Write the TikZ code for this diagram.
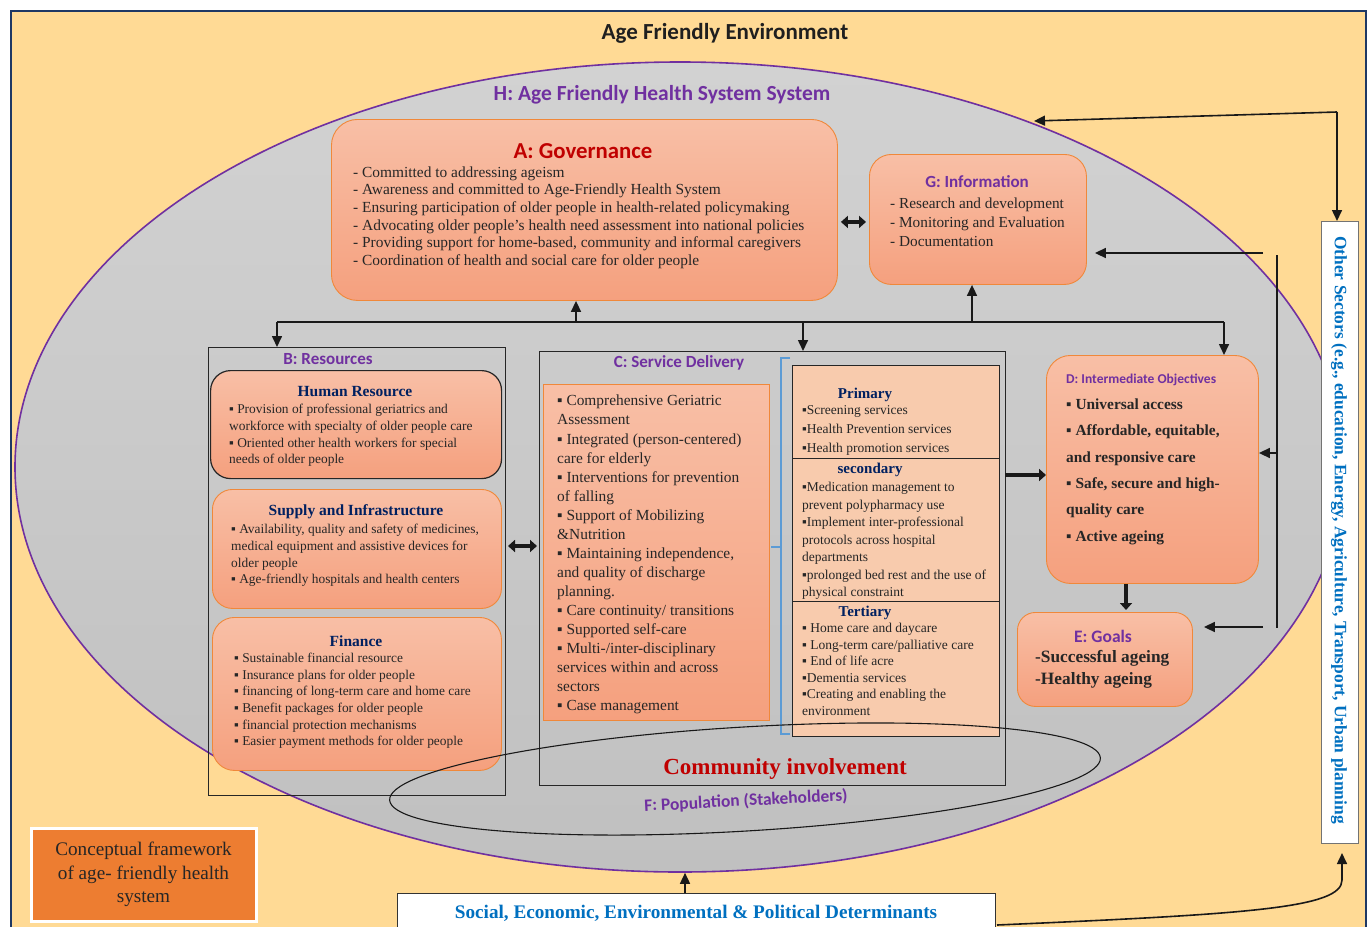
\documentclass[tikz,border=0pt]{standalone}
\usepackage{fontspec}
\setmainfont{Liberation Serif}
\newfontfamily\carl{Carlito}
\usetikzlibrary{arrows.meta,calc,shapes.geometric}
\definecolor{bgY}{HTML}{FFDA95}
\definecolor{navyF}{HTML}{1F3864}
\definecolor{purp}{HTML}{7030A0}
\definecolor{grayT}{HTML}{D2D2D2}
\definecolor{grayB}{HTML}{C0C0C0}
\definecolor{pkT}{HTML}{F8BFA6}
\definecolor{pkB}{HTML}{F5A07E}
\definecolor{orB}{HTML}{F0883A}
\definecolor{redT}{HTML}{C00000}
\definecolor{dnavy}{HTML}{002060}
\definecolor{txt}{HTML}{262626}
\definecolor{peach}{HTML}{F8CBAD}
\definecolor{blueB}{HTML}{5B9BD5}
\definecolor{blueT}{HTML}{0070C0}
\definecolor{cforange}{HTML}{ED7D31}
\tikzset{
  pbox/.style={draw=orB, line width=0.9pt, top color=pkT, bottom color=pkB, anchor=north west, inner sep=0pt},
  plainbox/.style={draw=black!85, line width=0.9pt, anchor=north west, inner sep=0pt},
  stitle/.style={font=\carl\bfseries\fontsize{#1}{#1}\selectfont, text=purp, inner sep=0pt},
  rtitle/.style={font=\bfseries\fontsize{#1}{#1}\selectfont, text=dnavy, inner sep=0pt},
  items/.style 2 args={font=\fontsize{#1}{#2}\selectfont, text=txt, align=left, anchor=north west, inner sep=0pt},
  bitems/.style 2 args={font=\bfseries\fontsize{#1}{#2}\selectfont, text=txt, align=left, anchor=north west, inner sep=0pt},
  ln/.style={draw=black!90, line width=1.6pt},
  arr/.style={ln, -{Triangle[length=11pt,width=10pt]}},
  tarr/.style={draw=black!90, line width=3.6pt, -{Triangle[length=7pt,width=12pt]}},
  dbarr/.style={draw=black!90, line width=3.6pt, {Triangle[length=7pt,width=12pt]}-{Triangle[length=7pt,width=12pt]}},
}
\begin{document}
\begin{tikzpicture}[x=1pt,y=-1pt]
\useasboundingbox (0,0) rectangle (1372,926);
\clip (0,0) rectangle (1372,926);
\fill[white] (0,0) rectangle (1372,926);
% frame
\draw[navyF, line width=2.5pt, fill=bgY] (11,11) rectangle (1366,960);
\node[font=\carl\bfseries\fontsize{23}{26}\selectfont, text=black!88, inner sep=0pt] (title) at (725,33) {Age Friendly Environment};
% health system ellipse
\node[ellipse, draw=purp, line width=1.6pt, top color=grayT, bottom color=grayB, minimum width=1330pt, minimum height=810pt, inner sep=0pt] (hs) at (680,467) {};
\node[stitle=21.5] (htitle) at (662,95) {H: Age Friendly Health System System};
% A governance
\node[pbox, rounded corners=26pt, minimum width=506pt, minimum height=181pt] (gov) at (331,119) {};
\node[font=\carl\bfseries\fontsize{22.8}{22.8}\selectfont, text=redT, inner sep=0pt] (govt) at (583,151) {A: Governance};
\node[items={15.4}{17.6}] (govi) at (353,166.5) {- Committed to addressing ageism\\
- Awareness and committed to Age-Friendly Health System\\
- Ensuring participation of older people in health-related policymaking\\
- Advocating older people’s health need assessment into national policies\\
- Providing support for home-based, community and informal caregivers\\
- Coordination of health and social care for older people};
% G information
\node[pbox, rounded corners=22pt, minimum width=217pt, minimum height=130pt] (info) at (869,154) {};
\node[stitle=17] (infot) at (977,182) {G: Information};
\node[items={15.3}{19}] (infoi) at (890,197.5) {- Research and development\\- Monitoring and Evaluation\\- Documentation};
% B resources
\node[plainbox, minimum width=297pt, minimum height=448pt] (res) at (208,347) {};
\node[stitle=17] (rest) at (328,359.5) {B: Resources};
\node[pbox, draw=black!85, line width=1.2pt, rounded corners=20pt, minimum width=291pt, minimum height=108pt] (hr) at (210,370) {};
\node[rtitle=15.5] (hrt) at (355,392) {Human Resource};
\node[items={13.4}{16.7}] (hri) at (229,404) {▪ Provision of professional geriatrics and\\workforce with specialty of older people care\\▪ Oriented other health workers for special\\needs of older people};
\node[pbox, rounded corners=20pt, minimum width=289pt, minimum height=119pt] (sup) at (212,489) {};
\node[rtitle=15.5] (supt) at (356,512) {Supply and Infrastructure};
\node[items={13.4}{16.7}] (supi) at (231,524) {▪ Availability, quality and safety of medicines,\\medical equipment and assistive devices for\\older people\\▪ Age-friendly hospitals and health centers};
\node[pbox, rounded corners=22pt, minimum width=289pt, minimum height=153pt] (fin) at (212,617) {};
\node[rtitle=15.5] (fint) at (356,641) {Finance};
\node[items={13.4}{16.6}] (fini) at (234,653) {▪ Sustainable financial resource\\▪ Insurance plans for older people\\▪ financing of long-term care and home care\\▪ Benefit packages for older people\\▪ financial protection mechanisms\\▪ Easier payment methods for older people};
% C service delivery
\node[plainbox, minimum width=466pt, minimum height=434pt] (sd) at (539,351) {};
\node[stitle=17] (sdt) at (679,362.5) {C: Service Delivery};
\node[pbox, minimum width=226pt, minimum height=336pt] (sdb) at (543,384) {};
\node[items={15.4}{19.06}] (sdi) at (557,395) {▪ Comprehensive Geriatric\\Assessment\\▪ Integrated (person-centered)\\care for elderly\\▪ Interventions for prevention\\of falling\\▪ Support of Mobilizing\\\&Nutrition\\▪ Maintaining independence,\\and quality of discharge\\planning.\\▪ Care continuity/ transitions\\▪ Supported self-care\\▪ Multi-/inter-disciplinary\\services within and across\\sectors\\▪ Case management};
% bracket
\draw[blueB, line width=2.4pt] (790,358) -- (781,358) -- (781,734) -- (790,734);
\draw[blueB, line width=2.4pt] (781,547) -- (771,547);
% tiers
\node[plainbox, fill=peach, minimum width=207pt, minimum height=371pt] (tier) at (792,365) {};
\draw[black!85, line width=0.9pt] (792,458) -- (999,458);
\draw[black!85, line width=0.9pt] (792,601) -- (999,601);
\node[rtitle=15] (prt) at (865,394.5) {Primary};
\node[items={13.5}{19}] (pri) at (802,405) {▪Screening services\\▪Health Prevention services\\▪Health promotion services};
\node[rtitle=15] (sect) at (870,469.5) {secondary};
\node[items={13.5}{17.5}] (seci) at (802,482) {▪Medication management to\\prevent polypharmacy use\\▪Implement inter-professional\\protocols across hospital\\departments\\▪prolonged bed rest and the use of\\physical constraint};
\node[rtitle=15] (tert) at (865,612.5) {Tertiary};
\node[items={13.5}{16.6}] (teri) at (802,623) {▪ Home care and daycare\\▪ Long-term care/palliative care\\▪ End of life acre\\▪Dementia services\\▪Creating and enabling the\\environment};
% D objectives
\node[pbox, rounded corners=24pt, minimum width=212pt, minimum height=228pt] (obj) at (1046,355) {};
\node[stitle=13.5, anchor=west] (objt) at (1066,380) {D: Intermediate Objectives};
\node[bitems={15.4}{26.4}] (obji) at (1066,398.5) {▪ Universal access\\▪ Affordable, equitable,\\and responsive care\\▪ Safe, secure and high-\\quality care\\▪ Active ageing};
% E goals
\node[pbox, rounded corners=18pt, minimum width=175pt, minimum height=94pt] (goal) at (1017,612) {};
\node[stitle=17.5] (goalt) at (1103,636) {E: Goals};
\node[bitems={17.3}{22}] (goali) at (1035,650.5) {-Successful ageing\\-Healthy ageing};
% community involvement and population
\node[font=\bfseries\fontsize{23}{23}\selectfont, text=redT, inner sep=0pt] (comm) at (785,769) {Community involvement};
\node[ellipse, draw=black!90, line width=1.1pt, minimum width=712pt, minimum height=104pt, inner sep=0pt, rotate=3.4] (pop) at (745,779) {};
\node[stitle=17.4, rotate=3] (popt) at (746,801) {F: Population (Stakeholders)};
% other sectors
\node[draw=black!55, line width=1pt, fill=white, minimum width=37pt, minimum height=622pt, anchor=north west, inner sep=0pt] (oth) at (1321,221) {};
\node[font=\bfseries\fontsize{17.4}{17.4}\selectfont, text=blueT, rotate=-90, inner sep=0pt] (otht) at (1339,530) {Other Sectors (e.g., education, Energy, Agriculture, Transport, Urban planning};
% social determinants
\node[draw=black!80, line width=0.9pt, fill=white, minimum width=598pt, minimum height=60pt, anchor=north west, inner sep=0pt] (soc) at (397,893) {};
\node[font=\bfseries\fontsize{19.2}{19.2}\selectfont, text=blueT, inner sep=0pt] (soct) at (696,913) {Social, Economic, Environmental \& Political Determinants};
% conceptual framework
\node[draw=white, line width=3pt, fill=cforange, minimum width=225pt, minimum height=93pt, align=center, font=\fontsize{19.2}{23.5}\selectfont, text=txt] (cf) at (143.5,874.5) {Conceptual framework\\of age- friendly health\\system};
% connectors
\coordinate (bL) at (277,322);
\coordinate (bR) at (1224,322);
\coordinate (bA) at (576,322);
\coordinate (bG) at (972,322);
\coordinate (bC) at (803,322);
\draw[ln] (bL) -- (bR);
\draw[arr] (bL) -- (bL |- res.north);
\draw[arr] (bA) -- (bA |- gov.south);
\draw[arr] (bG) -- (bG |- info.south);
\draw[arr] (bC) -- (bC |- sd.north);
\draw[arr] (bR) -- (bR |- obj.north);
\draw[dbarr, shorten <=3pt, shorten >=3pt] ([yshift=-12pt]gov.east) -- ([yshift=-12pt]gov.east -| info.west);
\coordinate (bc) at (505,546);
\draw[dbarr, shorten <=3pt, shorten >=2pt] (bc) -- (bc -| sd.west);
\coordinate (cd) at (1005,475);
\draw[tarr] (cd) -- (cd -| obj.west);
\draw[tarr, shorten >=2pt] (obj.south -| 1126,0) -- (goal.north -| 1126,0);
% right side links
\coordinate (rv1) at (1277,255);
\coordinate (rv2) at (1277,628);
\draw[ln] (rv1) -- (rv2);
\coordinate (gIn) at (1263,253);
\draw[arr, shorten >=8pt] (gIn) -- (gIn -| info.east);
\coordinate (dIn) at (1277,453);
\draw[arr] (dIn) -- (dIn -| obj.east);
\coordinate (eIn) at (1263,627);
\draw[arr, shorten >=11pt] (eIn) -- (eIn -| goal.east);
\coordinate (tr) at (1337,112);
\coordinate (tl) at (1034,121);
\draw[arr] (tr) -- (tl);
\draw[arr] (tr) -- (tr |- oth.north);
\coordinate (sUp) at (685,893);
\draw[arr] (sUp) -- (sUp |- hs.south);
\coordinate (cS) at (997,925);
\coordinate (cE) at (1342,853);
\draw[arr] (cS) .. controls (1250,914) and (1342,908) .. (1342,880) -- (cE);
\end{tikzpicture}
\end{document}
